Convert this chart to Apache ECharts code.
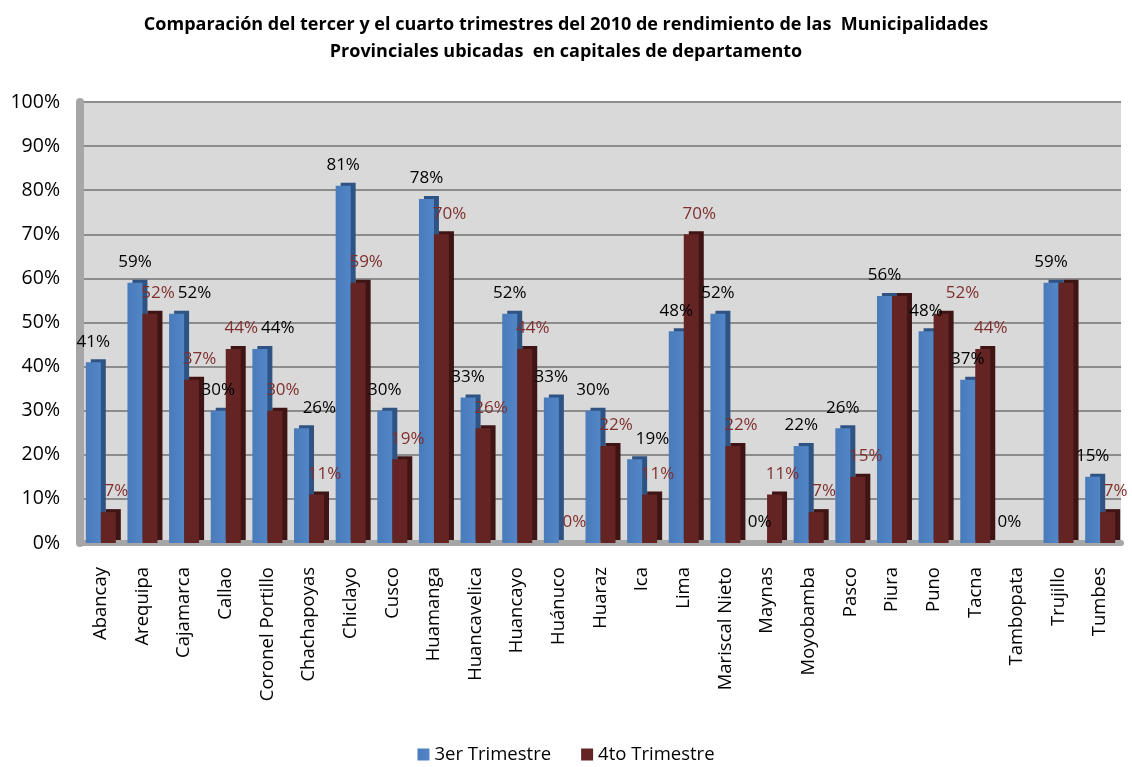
<!DOCTYPE html>
<html>
<head>
<meta charset="utf-8">
<script src="https://cdn.jsdelivr.net/npm/echarts@6/dist/echarts.min.js"></script>
<style>html,body{margin:0;padding:0;background:#fff}#c{width:1132px;height:767px}</style>
</head>
<body>
<div id="c"></div>
<script>
const categories = ['Abancay','Arequipa','Cajamarca','Callao','Coronel Portillo','Chachapoyas','Chiclayo','Cusco','Huamanga','Huancavelica','Huancayo','Huánuco','Huaraz','Ica','Lima','Mariscal Nieto','Maynas','Moyobamba','Pasco','Piura','Puno','Tacna','Tambopata','Trujillo','Tumbes'];
const tercer = [41,59,52,30,44,26,81,30,78,33,52,33,30,19,48,52,0,22,26,56,48,37,0,59,15];
const cuarto = [7,52,37,44,30,11,59,19,70,26,44,0,22,11,70,22,11,7,15,56,52,44,0,59,7];
const hiddenCuartoLabels = ['Piura','Tambopata','Trujillo'];
const yTicks = [0,10,20,30,40,50,60,70,80,90,100];

const font = 'Open Sans';
const labelSize = 17;
const BAR_W = 15;
const chart = echarts.init(document.getElementById('c'));

function buildSeries(offsets3, offsets4) {
  return [
    {
      name: '3er Trimestre', type: 'bar', barWidth: BAR_W, barGap: '0%',
      data: tercer.map((v, i) => ({value: v, label: {offset: offsets3[i]}})),
      itemStyle: {color: new echarts.graphic.LinearGradient(0,0,1,0,[{offset:0,color:'#4a7bbb'},{offset:1,color:'#5186c6'}]),
        shadowColor: '#2f5383', shadowOffsetX: 5, shadowOffsetY: -3, shadowBlur: 0},
      label: {show: true, position: 'top', distance: 5, fontFamily: font, fontSize: labelSize, color: '#000', formatter: '{c}%'}
    },
    {
      name: '4to Trimestre', type: 'bar', barWidth: BAR_W,
      data: cuarto.map((v, i) => ({value: v, label: {offset: offsets4[i], show: !hiddenCuartoLabels.includes(categories[i])}})),
      itemStyle: {color: '#632423', shadowColor: '#3e1514', shadowOffsetX: 5, shadowOffsetY: -3, shadowBlur: 0},
      label: {show: true, position: 'top', distance: 5, fontFamily: font, fontSize: labelSize, color: '#7f2f2e', formatter: '{c}%'}
    }
  ];
}

const base3 = tercer.map(() => [0, -7]);
const base4 = cuarto.map(() => [8, -7]);

chart.setOption({
  animation: false,
  title: {
    text: 'Comparación del tercer y el cuarto trimestres del 2010 de rendimiento de las  Municipalidades\nProvinciales ubicadas  en capitales de departamento',
    left: 'center', top: 6,
    textStyle: {fontFamily: font, fontSize: 18, fontWeight: 'bold', color: '#000', lineHeight: 27}
  },
  legend: {
    bottom: -2, left: 'center', itemWidth: 12, itemHeight: 12, itemGap: 30,
    icon: 'rect',
    textStyle: {fontFamily: font, fontSize: 18.5, color: '#000'},
    data: ['3er Trimestre','4to Trimestre']
  },
  grid: {left: 80, right: 11, top: 102, bottom: 224, show: true, backgroundColor: '#d9d9d9', borderWidth: 0},
  xAxis: {
    type: 'category', data: categories,
    axisLine: {show: true, lineStyle: {color: '#a6a6a6', width: 6}},
    axisTick: {show: false},
    axisLabel: {rotate: 90, interval: 0, margin: 24, fontFamily: font, fontSize: 18.5, color: '#000'}
  },
  yAxis: {
    type: 'value', min: 0, max: 100, interval: 10,
    axisLine: {show: true, lineStyle: {color: '#a6a6a6', width: 8}},
    axisTick: {show: false},
    splitLine: {lineStyle: {color: '#8c8c8c', width: 2}},
    axisLabel: {margin: 20, padding: [8,0,0,0], fontFamily: font, fontSize: 19.5, color: '#000',
      formatter: v => yTicks.includes(v) ? v + '%' : ''}
  },
  series: buildSeries(base3, base4)
});

// Resolve label collisions by nudging later labels to the right (as the original chart does)
const ctx = document.createElement('canvas').getContext('2d');
ctx.font = labelSize + 'px "' + font + '"';
const placed = [];
const off3 = base3.map(o => o.slice());
const off4 = base4.map(o => o.slice());
const H = 20;
categories.forEach((c, i) => {
  const center = chart.convertToPixel({xAxisIndex: 0}, i);
  [[tercer, off3, -BAR_W / 2, true], [cuarto, off4, BAR_W / 2, !hiddenCuartoLabels.includes(c)]].forEach(([vals, offs, shift, visible]) => {
    if (!visible) return;
    const barX = center + shift;
    const w = ctx.measureText(vals[i] + '%').width + 2;
    const cy = chart.convertToPixel({yAxisIndex: 0}, vals[i]) - 5 - H / 2 + offs[i][1];
    let cx = barX + offs[i][0];
    let moved = true;
    while (moved) {
      moved = false;
      for (const r of placed) {
        if (cx - w / 2 < r.x2 && cx + w / 2 > r.x1 && cy - H / 2 < r.y2 && cy + H / 2 > r.y1) {
          cx = r.x2 + w / 2 + 1; moved = true;
        }
      }
    }
    placed.push({x1: cx - w / 2, x2: cx + w / 2, y1: cy - H / 2, y2: cy + H / 2});
    offs[i][0] = cx - barX;
  });
});
chart.setOption({series: buildSeries(off3, off4)});
</script>
</body>
</html>
